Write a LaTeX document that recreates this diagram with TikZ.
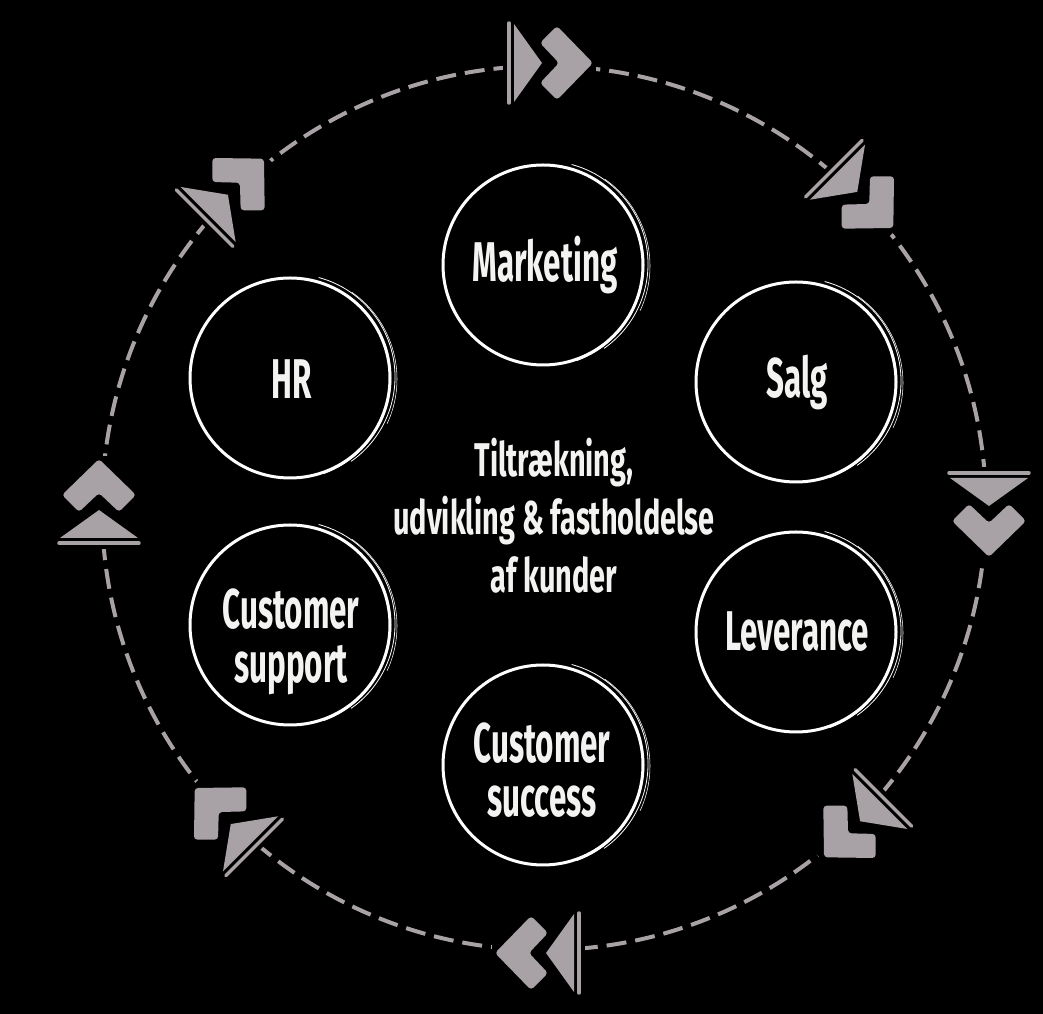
\documentclass[tikz,border=0pt]{standalone}
\usepackage{fontspec}
\newfontfamily\lblfont{Fira Sans}[FakeStretch=0.56]
\newfontfamily\ctrfont{Fira Sans}[FakeStretch=0.61]
\definecolor{mkgrey}{RGB}{168,162,166}
\definecolor{txt}{RGB}{243,243,241}
\tikzset{
  ring/.style={circle, draw=white, line width=2.25pt, minimum size=150pt, inner sep=0pt},
  sketch/.style={white, line width=0.6pt},
  lbl/.style={text=txt, font={\lblfont\bfseries\fontsize{42}{40}\selectfont}, inner sep=0pt, align=center},
  ctr/.style={text=txt, font={\ctrfont\bfseries\fontsize{35.5}{43.5}\selectfont}, inner sep=0pt, align=center},
  trail/.style={mkgrey, line width=3pt, dash pattern=on 15pt off 6.75pt},
  mkbar/.style={mkgrey, line width=2.6pt, line cap=round},
  mkfill/.style={fill=mkgrey},
}
\begin{document}
\begin{tikzpicture}[x=0.75pt,y=0.75pt]
\fill[black] (0,0) rectangle (1043,1014);
\useasboundingbox (0,0) rectangle (1043,1014);
\coordinate (O) at (544,506);
% dashed cycle
\draw[trail] (O) circle (442);
% markers
\foreach \a in {90,45,0,-45,-90,-135,180,135}{
  \begin{scope}[shift={(O)}, rotate=\a, shift={(442,0)}, rotate=-90]
    \fill[black] (-41,-9) rectangle (52,9);
    \draw[mkbar] (-35,-37) -- (-35,43);
    \fill[mkfill] (-30,-36) -- (-2,3) -- (-30,42) -- cycle;
    \fill[mkfill, rounded corners=2.5pt] (49,3) -- (13,40) -- (-4,23) -- (15,3) -- (-4,-17) -- (13,-34) -- cycle;
  \end{scope}
}
% rings
\foreach \n/\x/\y in {mkt/543/749, salg/796/632, lev/796/382, succ/543/249, supp/290/389, hr/290/636}{
  \node[ring] (\n) at (\x,\y) {};
  \draw[sketch] ([shift={(2,1)}]\n.center) ++(75:103) arc (75:-55:103);
  \draw[white, line width=0.4pt] ([shift={(1,-1)}]\n.center) ++(55:106) arc (55:-25:106);
  \draw[white, line width=0.9pt] ([shift={(-1,0)}]\n.center) ++(20:101.5) arc (20:-70:101.5);
}
% labels
\node[lbl, anchor=base] (tmkt) at (545,732) {Marketing};
\node[lbl, anchor=base] (tsalg) at (797,616) {Salg};
\node[lbl, anchor=base] (thr) at (292,615) {HR};
\node[lbl, anchor=base] (tlev) at (797,363) {Leverance};
\node[lbl] (tsupp) at (291,372) {Customer\\support};
\node[lbl] (tsucc) at (542,244) {Customer\\success};
\node[ctr] (tctr) at (554,498) {Tiltrækning,\\udvikling \& fastholdelse\\af kunder};
\end{tikzpicture}
\end{document}
